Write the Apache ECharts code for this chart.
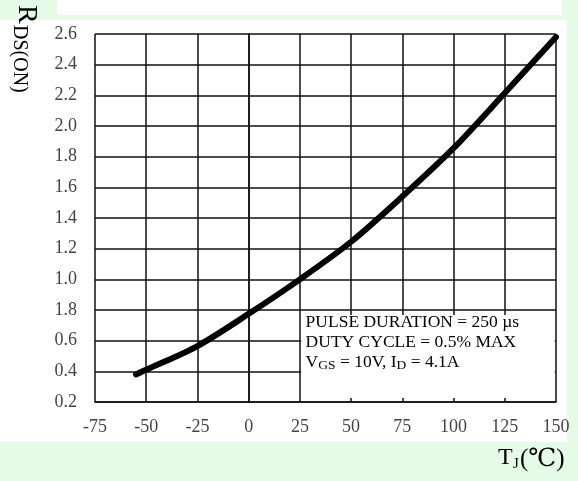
<!DOCTYPE html>
<html><head><meta charset="utf-8">
<script src="https://cdn.jsdelivr.net/npm/echarts@6/dist/echarts.min.js"></script>
<style>
html,body{margin:0;padding:0;background:#e5fbe6;width:578px;height:481px;overflow:hidden;}
.w{position:absolute;background:#fff;}
#c{position:absolute;left:0;top:0;width:578px;height:481px;}
</style>
</head><body>
<div class="w" style="left:57px;top:0;width:505px;height:15px"></div>
<div class="w" style="left:0;top:20px;width:567px;height:422px"></div>
<div id="c"></div>
<script>
// Data
const tempC = [-55, -50, -25, 0, 25, 50, 75, 100, 125, 150];
const rdsOn = [0.38, 0.41, 0.565, 0.775, 1.0, 1.245, 1.54, 1.855, 2.215, 2.58];
const yTickLabels = ['0.2','0.4','0.6','1.8','1.0','1.2','1.4','1.6','1.8','2.0','2.2','2.4','2.6'];
const xTickLabels = ['-75','-50','-25','0','25','50','75','100','125','150'];
const noteText = 'PULSE DURATION = 250 µs\nDUTY CYCLE = 0.5% MAX\nV{s|GS} = 10V, I{s|D} = 4.1A';

const FONT = '"Liberation Serif","DejaVu Serif",serif';
const GRID = '#111';
const chart = echarts.init(document.getElementById('c'), null, {renderer: 'canvas'});
chart.setOption({
  backgroundColor: 'transparent',
  animation: false,
  grid: {left: 95, right: 22, top: 34, bottom: 79},
  xAxis: {
    type: 'value', min: -75, max: 150, interval: 25,
    axisLine: {show: true, lineStyle: {color: GRID, width: 1.5}},
    axisTick: {show: false},
    splitLine: {show: true, lineStyle: {color: GRID, width: 1.5}},
    axisLabel: {color: '#444', fontFamily: FONT, fontSize: 18, margin: 16,
      formatter: v => xTickLabels[Math.round((v + 75) / 25)]}
  },
  yAxis: {
    type: 'value', min: 0.2, max: 2.6, interval: 0.2,
    axisLine: {show: true, lineStyle: {color: GRID, width: 1.5}},
    axisTick: {show: false},
    splitLine: {show: true, lineStyle: {color: GRID, width: 1.5}},
    axisLabel: {color: '#444', fontFamily: FONT, fontSize: 18, margin: 18,
      formatter: v => yTickLabels[Math.round((v - 0.2) / 0.2)]}
  },
  series: [{
    type: 'line',
    data: tempC.map((t, i) => [t, rdsOn[i]]),
    symbol: 'none',
    smooth: 0.3,
    lineStyle: {color: '#000', width: 6, cap: 'round'},
    markArea: {
      silent: true,
      itemStyle: {color: '#fff', opacity: 1},
      label: {
        show: true, position: [4.5, -2.5], formatter: noteText,
        color: '#000', fontFamily: FONT, fontSize: 17.5, lineHeight: 20,
        rich: {s: {fontFamily: FONT, fontSize: 13.5, lineHeight: 8, verticalAlign: 'bottom', color: '#000'}}
      },
      data: [[{xAxis: 25.6, yAxis: 0.767}, {xAxis: 149.4, yAxis: 0.226}]]
    }
  }],
  graphic: [
    {type: 'text', x: 26, y: 5, rotation: -Math.PI / 2,
      style: {text: 'R', fontFamily: FONT, fontSize: 28, fill: '#000', align: 'left', verticalAlign: 'middle'}},
    {type: 'text', x: 19, y: 25, rotation: -Math.PI / 2,
      style: {text: 'DS(ON)', fontFamily: FONT, fontSize: 20, fill: '#000', align: 'left', verticalAlign: 'middle'}},
    {type: 'text', x: 498, y: 458,
      style: {text: 'T', fontFamily: FONT, fontSize: 24, fill: '#000', align: 'left', verticalAlign: 'middle'}},
    {type: 'text', x: 513, y: 464,
      style: {text: 'J', fontFamily: FONT, fontSize: 15, fill: '#000', align: 'left', verticalAlign: 'middle'}},
    {type: 'text', x: 520, y: 459,
      style: {text: '(℃)', fontFamily: FONT, fontSize: 25, fill: '#000', align: 'left', verticalAlign: 'middle'}}
  ]
});
</script>
</body></html>
